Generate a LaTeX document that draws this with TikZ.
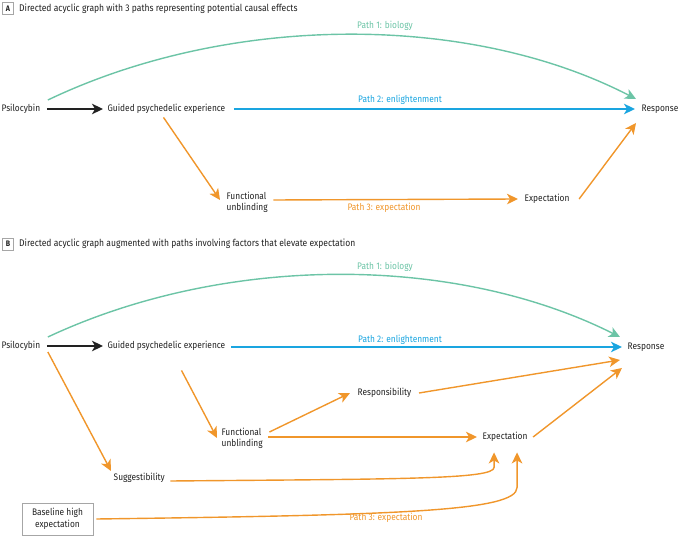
\documentclass[tikz,border=0pt]{standalone}
\usepackage{fontspec}
\setmainfont{Fira Sans}[FakeStretch=0.88]
\usetikzlibrary{arrows.meta,calc}
\definecolor{pgreen}{HTML}{6CC4A6}
\definecolor{pblue}{HTML}{1AA5E0}
\definecolor{porange}{HTML}{F0962B}
\definecolor{ink}{HTML}{222222}
\begin{document}
\begin{tikzpicture}[x=1pt,y=-1pt,
  font=\fontsize{9.5}{11}\selectfont,
  lbl/.style={text=ink,inner sep=0.5pt,anchor=west},
  plabel/.style={inner sep=0.5pt},
  arr/.style={line width=1.4pt,-{Stealth[length=11pt,width=10.5pt,inset=3pt]}},
  tagbox/.style={draw=gray!70,line width=0.6pt,minimum width=11pt,minimum height=12pt,inner sep=0pt,font=\fontsize{8}{9}\selectfont\bfseries,text=ink},
  ttl/.style={text=ink,inner sep=0pt,anchor=west,font=\fontsize{9.7}{11}\selectfont},
]
\useasboundingbox (0,0) rectangle (680,537);

% ---------------- Panel A ----------------
\node[tagbox] (tagA) at (8,8.5) {A};
\node[ttl] (ttlA) at (19,8.5) {Directed acyclic graph with 3 paths representing potential causal effects};

\node[lbl] (psiA) at (1,109) {Psilocybin};
\node[lbl] (gpeA) at (107,109) {Guided psychedelic experience};
\node[lbl] (respA) at (641,109) {Response};
\node[lbl,align=left] (fuA) at (226,202) {Functional\\unblinding};
\node[lbl] (expA) at (524,199) {Expectation};

\draw[arr,ink] ($(psiA.east)+(6,0)$) -- ($(gpeA.west)+(-4,0)$);
\draw[arr,pblue] ($(gpeA.east)+(8,0)$) -- ($(respA.west)+(-6,0)$);
\draw[arr,pgreen] ($(psiA.east)+(7,-9)$) .. controls (230,13) and (470,13) .. ($(respA.west)+(-5,-10)$);
\draw[arr,porange] ($(gpeA.south)+(-3,3)$) -- ($(fuA.west)+(-6,-2)$);
\draw[arr,porange] ($(fuA.east)+(5,-2)$) -- ($(expA.west)+(-6,0)$);
\draw[arr,porange] ($(expA.east)+(9,0)$) -- ($(respA.south west)+(-5,9)$);

\node[plabel,text=pgreen] (p1A) at (385,26) {Path 1: biology};
\node[plabel,text=pblue] (p2A) at (400,100) {Path 2: enlightenment};
\node[plabel,text=porange] (p3A) at (384,208) {Path 3: expectation};

% ---------------- Panel B ----------------
\node[tagbox] (tagB) at (8,244) {B};
\node[ttl] (ttlB) at (19,244) {Directed acyclic graph augmented with paths involving factors that elevate expectation};

\node[lbl] (psiB) at (1,346) {Psilocybin};
\node[lbl] (gpeB) at (107,346) {Guided psychedelic experience};
\node[lbl] (respB) at (627,347) {Response};
\node[lbl,align=left] (fuB) at (221,438) {Functional\\unblinding};
\node[lbl] (respoB) at (357,393) {Responsibility};
\node[lbl] (expB) at (482,437) {Expectation};
\node[lbl] (sugB) at (113,478) {Suggestibility};
\node[draw=gray!70,line width=0.6pt,text=ink,align=center,minimum width=71pt,minimum height=32pt,inner sep=1pt,font=\fontsize{9.5}{11.5}\selectfont] (baseB) at (57.5,519) {Baseline high\\expectation};

\draw[arr,ink] ($(psiB.east)+(6,0)$) -- ($(gpeB.west)+(-4,0)$);
\draw[arr,pblue] ($(gpeB.east)+(5,1)$) -- ($(respB.west)+(-5,0)$);
\draw[arr,pgreen] ($(psiB.east)+(7,-9)$) .. controls (225,254) and (455,254) .. ($(respB.west)+(-7,-10)$);
\draw[arr,porange] ($(psiB.east)+(7,6)$) -- ($(sugB.west)+(-2,-7)$);
\draw[arr,porange] ($(gpeB.south)+(15,19)$) -- ($(fuB.west)+(-4,0)$);
\draw[arr,porange] ($(fuB.east)+(6,-6)$) -- ($(respoB.west)+(-7,0)$);
\draw[arr,porange] ($(respoB.east)+(7,0)$) -- ($(respB.south west)+(-7,8)$);
\draw[arr,porange] ($(fuB.east)+(5,-1)$) -- ($(expB.west)+(-5,0)$);
\draw[arr,porange] ($(expB.east)+(5,0)$) -- ($(respB.south west)+(-5,16)$);
\draw[arr,porange] ($(sugB.east)+(5,3)$) .. controls (400,479) and ($(expB.south)+(-11,37)$) .. ($(expB.south)+(-11,25)$) -- ($(expB.south)+(-11,10)$);
\draw[arr,porange] ($(baseB.east)+(3,0)$) .. controls (400,515) and ($(expB.south)+(12,69)$) .. ($(expB.south)+(12,45)$) -- ($(expB.south)+(12,10)$);

\node[plabel,text=pgreen] (p1B) at (385,267) {Path 1: biology};
\node[plabel,text=pblue] (p2B) at (400,340) {Path 2: enlightenment};
\node[plabel,text=porange] (p3B) at (386,518) {Path 3: expectation};
\end{tikzpicture}
\end{document}
